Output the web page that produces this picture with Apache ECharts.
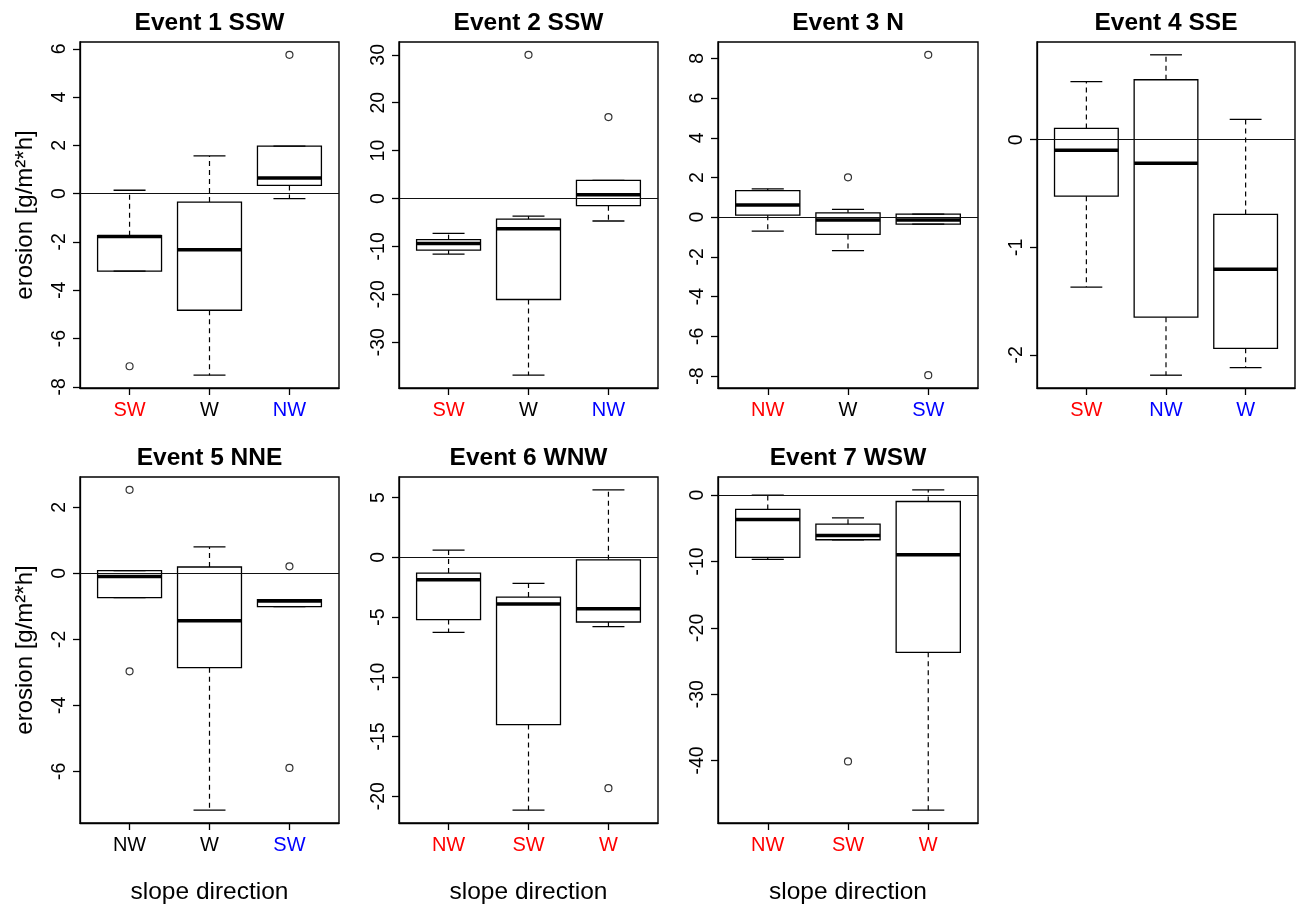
<!DOCTYPE html>
<html lang="en">
<head>
    <meta charset="UTF-8">
    <title>Erosion by slope direction</title>
    <script src="https://cdn.jsdelivr.net/npm/echarts@6/dist/echarts.min.js"></script>
    <style>html, body { margin: 0; padding: 0; background: #fff; }</style>
</head>
<body>

<div id="main" style="width: 1296px; height: 904px;"></div>

<script>
    var FONT = '"Liberation Sans", Arial, sans-serif';

    var titles = ['Event 1 SSW', 'Event 2 SSW', 'Event 3 N', 'Event 4 SSE',
        'Event 5 NNE', 'Event 6 WNW', 'Event 7 WSW'];

    // boxes: [lower whisker, Q1, median, Q3, upper whisker]
    // outliers: [box position (1..3), value]
    var e1Names = ['SW', 'W', 'NW'];
    var e1Colors = ['red', 'black', 'blue'];
    var e1Boxes = [[-3.21, -3.21, -1.78, -1.74, 0.14], [-7.52, -4.83, -2.32, -0.35, 1.56], [-0.21, 0.34, 0.65, 1.97, 1.97]];
    var e1Outliers = [[1, -7.15], [3, 5.75]];
    var e1Ticks = [-8, -6, -4, -2, 0, 2, 4, 6];

    var e2Names = ['SW', 'W', 'NW'];
    var e2Colors = ['red', 'black', 'blue'];
    var e2Boxes = [[-11.6, -10.8, -9.4, -8.6, -7.3], [-36.9, -21.1, -6.3, -4.3, -3.7], [-4.7, -1.5, 0.8, 3.8, 3.8]];
    var e2Outliers = [[2, 30.0], [3, 17.0]];
    var e2Ticks = [-30, -20, -10, 0, 10, 20, 30];

    var e3Names = ['NW', 'W', 'SW'];
    var e3Colors = ['red', 'black', 'blue'];
    var e3Boxes = [[-0.7, 0.1, 0.62, 1.34, 1.43], [-1.68, -0.87, -0.14, 0.22, 0.39], [-0.35, -0.35, -0.14, 0.15, 0.15]];
    var e3Outliers = [[2, 2.01], [3, 8.18], [3, -7.96]];
    var e3Ticks = [-8, -6, -4, -2, 0, 2, 4, 6, 8];

    var e4Names = ['SW', 'NW', 'W'];
    var e4Colors = ['red', 'blue', 'blue'];
    var e4Boxes = [[-1.37, -0.525, -0.097, 0.105, 0.54], [-2.19, -1.65, -0.218, 0.558, 0.79], [-2.12, -1.94, -1.204, -0.695, 0.19]];
    var e4Outliers = [];
    var e4Ticks = [-2, -1, 0];

    var e5Names = ['NW', 'W', 'SW'];
    var e5Colors = ['black', 'black', 'blue'];
    var e5Boxes = [[-0.74, -0.74, -0.1, 0.08, 0.08], [-7.18, -2.86, -1.44, 0.19, 0.80], [-1.01, -1.01, -0.84, -0.8, -0.8]];
    var e5Outliers = [[1, 2.53], [1, -2.97], [3, 0.21], [3, -5.9]];
    var e5Ticks = [-6, -4, -2, 0, 2];

    var e6Names = ['NW', 'SW', 'W'];
    var e6Colors = ['red', 'red', 'red'];
    var e6Boxes = [[-6.28, -5.21, -1.87, -1.31, 0.61], [-21.17, -14.0, -3.9, -3.32, -2.18], [-5.8, -5.41, -4.3, -0.2, 5.66]];
    var e6Outliers = [[3, -19.33]];
    var e6Ticks = [-20, -15, -10, -5, 0, 5];

    var e7Names = ['NW', 'SW', 'W'];
    var e7Colors = ['red', 'red', 'red'];
    var e7Boxes = [[-9.68, -9.38, -3.66, -2.15, 0.0], [-6.72, -6.72, -6.07, -4.37, -3.41], [-47.5, -23.7, -8.98, -0.95, 0.81]];
    var e7Outliers = [[2, -40.15]];
    var e7Ticks = [-40, -30, -20, -10, 0];

    var events = [
        {names: e1Names, colors: e1Colors, boxes: e1Boxes, outliers: e1Outliers, ticks: e1Ticks},
        {names: e2Names, colors: e2Colors, boxes: e2Boxes, outliers: e2Outliers, ticks: e2Ticks},
        {names: e3Names, colors: e3Colors, boxes: e3Boxes, outliers: e3Outliers, ticks: e3Ticks},
        {names: e4Names, colors: e4Colors, boxes: e4Boxes, outliers: e4Outliers, ticks: e4Ticks},
        {names: e5Names, colors: e5Colors, boxes: e5Boxes, outliers: e5Outliers, ticks: e5Ticks},
        {names: e6Names, colors: e6Colors, boxes: e6Boxes, outliers: e6Outliers, ticks: e6Ticks},
        {names: e7Names, colors: e7Colors, boxes: e7Boxes, outliers: e7Outliers, ticks: e7Ticks}
    ];

    // panel layout (px)
    var colLeft = [80, 399, 718, 1037];
    var colWidth = [259, 259, 260, 258];
    var rowTop = [42, 477];
    var plotHeight = 346;

    // box drawn R style: dashed whiskers, staples, thick median
    function renderBox(params, api) {
        var x = api.value(0);
        var pLo = api.coord([x, api.value(1)]);
        var pQ1 = api.coord([x, api.value(2)]);
        var pMed = api.coord([x, api.value(3)]);
        var pQ3 = api.coord([x, api.value(4)]);
        var pHi = api.coord([x, api.value(5)]);
        var half = api.size([0.4, 0])[0];
        var cap = half / 2;
        var cx = pMed[0];
        var solid = {stroke: '#000', lineWidth: 1.3};
        var dashed = {stroke: '#000', lineWidth: 1.2, lineDash: [5, 4]};
        return {
            type: 'group',
            children: [
                {type: 'line', shape: {x1: cx, y1: pQ3[1], x2: cx, y2: pHi[1]}, style: dashed},
                {type: 'line', shape: {x1: cx, y1: pQ1[1], x2: cx, y2: pLo[1]}, style: dashed},
                {type: 'line', shape: {x1: cx - cap, y1: pHi[1], x2: cx + cap, y2: pHi[1]}, style: solid},
                {type: 'line', shape: {x1: cx - cap, y1: pLo[1], x2: cx + cap, y2: pLo[1]}, style: solid},
                {
                    type: 'rect',
                    shape: {x: cx - half, y: pQ3[1], width: 2 * half, height: pQ1[1] - pQ3[1]},
                    style: {stroke: '#000', lineWidth: 1.3, fill: 'none'}
                },
                {type: 'line', shape: {x1: cx - half, y1: pMed[1], x2: cx + half, y2: pMed[1]}, style: {stroke: '#000', lineWidth: 3.5}}
            ]
        };
    }

    var labelRich = {
        red: {color: '#ff0000', fontFamily: FONT, fontSize: 20},
        blue: {color: '#0000ff', fontFamily: FONT, fontSize: 20},
        black: {color: '#000000', fontFamily: FONT, fontSize: 20}
    };

    var option = {
        animation: false,
        backgroundColor: '#fff',
        title: [],
        grid: [],
        xAxis: [],
        yAxis: [],
        series: []
    };

    events.forEach(function (ev, i) {
        var row = i < 4 ? 0 : 1;
        var col = i < 4 ? i : i - 4;
        var left = colLeft[col];
        var top = rowTop[row];
        var width = colWidth[col];

        // y range like R: data range plus 4% each side
        var all = [];
        ev.boxes.forEach(function (b) { all = all.concat(b); });
        ev.outliers.forEach(function (o) { all.push(o[1]); });
        var lo = Math.min.apply(null, all);
        var hi = Math.max.apply(null, all);
        var pad = (hi - lo) * 0.04;

        option.title.push({
            text: titles[i],
            left: left + width / 2,
            top: top - 18.5,
            textAlign: 'center',
            textVerticalAlign: 'middle',
            padding: 0,
            textStyle: {fontFamily: FONT, fontSize: 24.5, fontWeight: 'bold', color: '#000'}
        });

        option.grid.push({
            left: left,
            top: top,
            width: width,
            height: plotHeight,
            show: true,
            borderColor: '#000',
            borderWidth: 1.4,
            backgroundColor: 'transparent',
            outerBoundsMode: 'none'
        });

        option.xAxis.push({
            type: 'value',
            gridIndex: i,
            min: 0.38,
            max: 3.62,
            splitLine: {show: false},
            axisLine: {show: true, onZero: false, lineStyle: {color: '#000', width: 1.3}},
            axisTick: {customValues: [1, 2, 3], length: 7, lineStyle: {color: '#000', width: 1.3}},
            axisLabel: {
                customValues: [1, 2, 3],
                margin: 12,
                formatter: function (v) {
                    var k = Math.round(v) - 1;
                    return '{' + ev.colors[k] + '|' + ev.names[k] + '}';
                },
                rich: labelRich
            },
            name: row === 1 ? 'slope direction' : '',
            nameLocation: 'middle',
            nameGap: 57,
            nameTextStyle: {fontFamily: FONT, fontSize: 24.5, color: '#000'}
        });

        option.yAxis.push({
            type: 'value',
            gridIndex: i,
            min: lo - pad,
            max: hi + pad,
            splitLine: {show: false},
            axisLine: {show: true, onZero: false, lineStyle: {color: '#000', width: 1.3}},
            axisTick: {customValues: ev.ticks, length: 7, lineStyle: {color: '#000', width: 1.3}},
            axisLabel: {
                customValues: ev.ticks,
                rotate: 90,
                margin: 10,
                fontFamily: FONT,
                fontSize: 19.5,
                color: '#000'
            },
            name: col === 0 ? 'erosion [g/m\u00b2*h]' : '',
            nameLocation: 'middle',
            nameGap: 43,
            nameTextStyle: {fontFamily: FONT, fontSize: 24, color: '#000'}
        });

        option.series.push({
            type: 'custom',
            xAxisIndex: i,
            yAxisIndex: i,
            renderItem: renderBox,
            encode: {x: 0, y: [1, 2, 3, 4, 5]},
            data: ev.boxes.map(function (b, k) { return [k + 1].concat(b); }),
            z: 3
        });

        option.series.push({
            type: 'scatter',
            xAxisIndex: i,
            yAxisIndex: i,
            data: ev.outliers,
            symbol: 'circle',
            symbolSize: 7,
            itemStyle: {color: '#fff', borderColor: '#000', borderWidth: 1.2},
            z: 4,
            markLine: {
                silent: true,
                symbol: 'none',
                label: {show: false},
                lineStyle: {color: '#111', width: 1.2, type: 'solid'},
                data: [{yAxis: 0}]
            }
        });
    });

    var mychart = echarts.init(document.getElementById('main'));
    mychart.setOption(option);
</script>
</body>
</html>
